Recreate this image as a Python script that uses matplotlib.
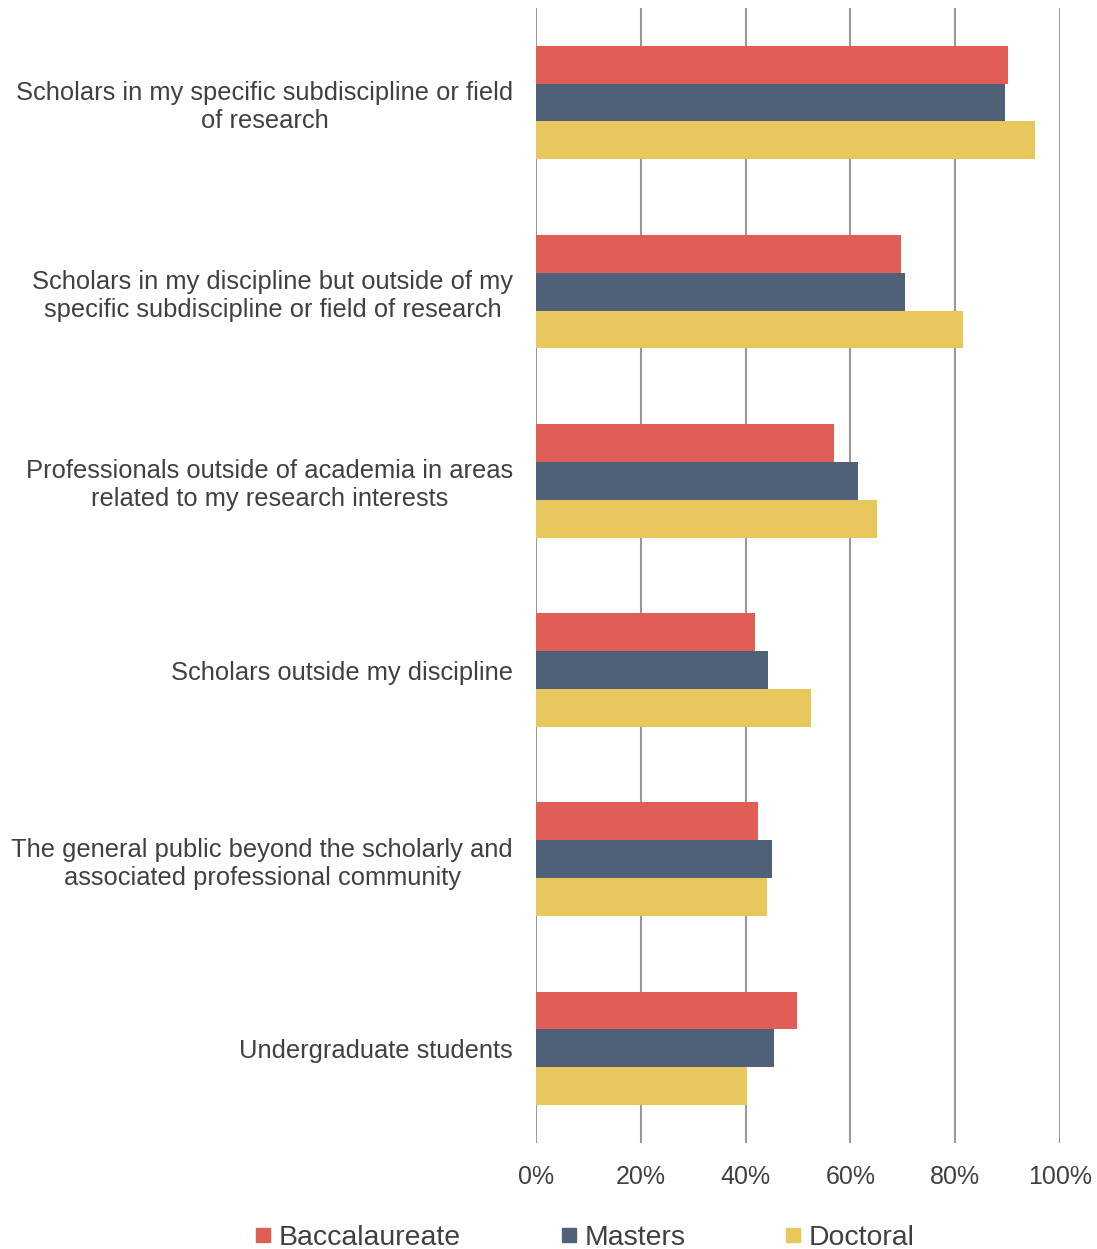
import matplotlib
matplotlib.use("Agg")
import matplotlib.pyplot as plt
from matplotlib.lines import Line2D
import numpy as np

# categories (top to bottom)
categories = [
    "Scholars in my specific subdiscipline or field\nof research",
    "Scholars in my discipline but outside of my\nspecific subdiscipline or field of research",
    "Professionals outside of academia in areas\nrelated to my research interests",
    "Scholars outside my discipline",
    "The general public beyond the scholarly and\nassociated professional community",
    "Undergraduate students",
]
series_names = ["Baccalaureate", "Masters", "Doctoral"]
baccalaureate = [90.0, 69.7, 56.8, 41.7, 42.3, 49.9]
masters = [89.5, 70.4, 61.5, 44.3, 45.0, 45.5]
doctoral = [95.3, 81.4, 65.1, 52.4, 44.0, 40.2]
x_ticks = [0, 20, 40, 60, 80, 100]
x_tick_labels = ["0%", "20%", "40%", "60%", "80%", "100%"]

colors = ["#E05E56", "#4F6079", "#E8C75D"]
text_color = "#404040"

plt.rcParams['font.family'] = ['Liberation Sans', 'DejaVu Sans']

fig = plt.figure(figsize=(10.97, 12.49), dpi=100)
ax = fig.add_axes([0.4886, 0.0849, 0.4777, 0.9087])

y = np.arange(len(categories))
bar_h = 0.2
for k, vals in enumerate([baccalaureate, masters, doctoral]):
    ax.barh(y + (k - 1) * bar_h, vals, height=bar_h, color=colors[k],
            zorder=2, label=series_names[k])

ax.set_xlim(0, 100)
ax.set_ylim(len(categories) - 0.5, -0.5)

ax.set_xticks(x_ticks)
ax.set_xticklabels(x_tick_labels, fontsize=18, color=text_color)
ax.set_yticks(y)
ax.set_yticklabels(categories, fontsize=18.4, color=text_color,
                   multialignment='center')
ax.tick_params(axis='x', length=0, pad=16)
ax.tick_params(axis='y', length=0, pad=16.5)

ax.grid(axis='x', color='#999999', linewidth=1.5, zorder=0)
ax.set_axisbelow(True)
for s in ax.spines.values():
    s.set_visible(False)

handles = [Line2D([0], [0], marker='s', linestyle='none', markersize=10,
                  markerfacecolor=c, markeredgecolor=c) for c in colors]
leg = fig.legend(handles, series_names, loc='center',
                 bbox_to_anchor=(0.533, 0.0088), ncol=3, frameon=False,
                 fontsize=20.4, handlelength=0.6, handletextpad=0.25,
                 columnspacing=3.5, borderaxespad=0)
for t in leg.get_texts():
    t.set_color(text_color)

fig.savefig("out.png", dpi=100)
